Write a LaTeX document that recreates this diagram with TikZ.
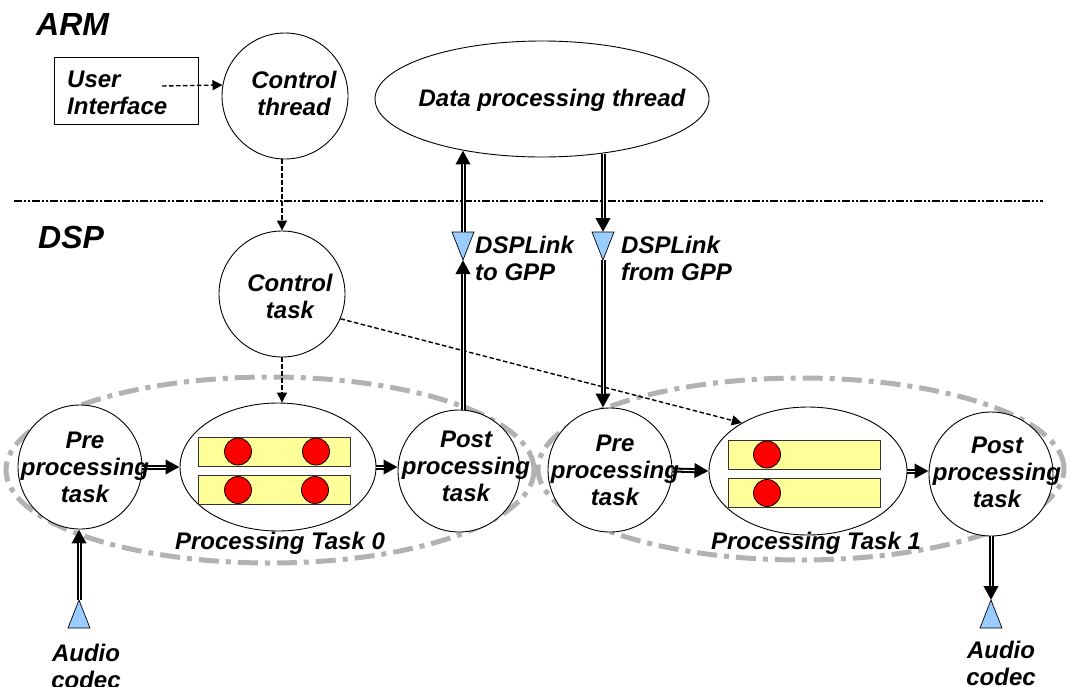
\documentclass[tikz,border=0pt]{standalone}
\usepackage{fontspec}
\setmainfont{Liberation Sans}
\usetikzlibrary{shapes.geometric,arrows.meta}
\definecolor{barY}{RGB}{255,255,153}
\definecolor{triB}{RGB}{153,204,255}
\definecolor{grp}{RGB}{178,178,178}
\newcommand{\dblarr}[2]{%
  \draw[dblout] #1 -- #2;
  \draw[dblin] #1 -- #2;}
\begin{document}
\begin{tikzpicture}[x=1pt,y=-1pt,
  txt/.style={font=\fontsize{24}{27}\selectfont\bfseries\itshape, align=center, inner sep=0pt},
  bigtxt/.style={font=\fontsize{32}{36}\selectfont\bfseries\itshape, inner sep=0pt, anchor=west},
  proc/.style={circle, draw, line width=0.9pt, fill=white, minimum size=#1, inner sep=0pt},
  oval/.style n args={2}{ellipse, draw, line width=0.9pt, fill=white, minimum width=#1, minimum height=#2, inner sep=0pt},
  grpell/.style n args={2}{ellipse, draw=grp, line width=5pt, dash pattern=on 20pt off 7pt on 5pt off 7pt, minimum width=#1, minimum height=#2, inner sep=0pt},
  bar/.style={rectangle, draw=black!80, line width=0.8pt, fill=barY, minimum width=152pt, minimum height=29pt, inner sep=0pt},
  dot/.style={circle, draw, line width=0.8pt, fill=red, minimum size=27pt, inner sep=0pt},
  tri/.style={draw, line width=0.7pt, fill=triB},
  dsh/.style={line width=1.4pt, dash pattern=on 4.5pt off 2.5pt, -{Triangle[length=10pt,width=10pt]}},
  dblout/.style={line width=5pt, -{Triangle[length=14pt,width=14pt]}},
  dblin/.style={white, line width=0.9pt, shorten >=14pt},
  sep/.style={line width=1.4pt, dash pattern=on 8pt off 2pt on 2pt off 2pt on 2pt off 2pt}
]
\useasboundingbox (0,0) rectangle (1071,686);

% labels
\node[bigtxt] (arm) at (36,24) {ARM};
\node[bigtxt] (dsp) at (38,237) {DSP};

% separator
\coordinate (sepL) at (14,201);
\coordinate (sepR) at (1043,201);
\draw[sep] (sepL) -- (sepR);

% grey groups
\node[grpell={528pt}{186pt}] (g0) at (270,470) {};
\node[grpell={526pt}{182pt}] (g1) at (801,469) {};

% ARM side
\node[rectangle, draw, line width=0.9pt, minimum width=144pt, minimum height=67pt, inner sep=0pt] (ui) at (126,90.5) {};
\node[txt, align=left, anchor=west] (uit) at (67,93) {User\\Interface};
\node[proc=126pt] (ct) at (285,96) {};
\node[txt] (ctt) at (294,93) {Control\\thread};
\node[oval={334pt}{116pt}] (dpt) at (542,99) {};
\node[txt] (dptt) at (552,100) {Data processing thread};

% DSP side
\node[proc=126pt] (ctask) at (282,294) {};
\node[txt] (ctaskt) at (290,296) {Control\\task};

\node[proc=124pt] (pre0) at (80,467) {};
\node[oval={196pt}{128pt}] (pt0) at (278,467) {};
\node[proc=122pt] (post0) at (459,471) {};
\node[proc=124pt] (pre1) at (610,470) {};
\node[oval={198pt}{128pt}] (pt1) at (808,471) {};
\node[proc=124pt] (post1) at (991,474) {};

\node[bar] (b00) at (274,451.5) {};
\node[bar] (b01) at (274,490) {};
\node[dot] (d000) at (238,451.5) {};
\node[dot] (d001) at (316,451.5) {};
\node[dot] (d010) at (238,490) {};
\node[dot] (d011) at (315,490) {};
\node[bar] (b10) at (804,454.5) {};
\node[bar] (b11) at (804,493) {};
\node[dot] (d100) at (767,454.5) {};
\node[dot] (d110) at (767,493) {};

% triangles
\coordinate (t0a) at (79,600);
\draw[tri] (t0a) -- (90,628) -- (68,628) -- cycle;
\coordinate (t1a) at (463,260);
\coordinate (t1t) at (463,232);
\draw[tri] (t1a) -- (474,232) -- (452,232) -- cycle;
\coordinate (t2a) at (603,260);
\coordinate (t2t) at (603,232);
\draw[tri] (t2a) -- (614,232) -- (592,232) -- cycle;
\coordinate (t3a) at (991,600);
\draw[tri] (t3a) -- (1002,628) -- (980,628) -- cycle;

% dashed control connectors
\coordinate (uis) at (162,86);
\draw[dsh] (uis) -- (ct.170);
\draw[dsh] (ctask.north |- ct.south) -- (ctask.north);
\draw[dsh] (ctask.south) -- (ctask.south |- pt0.north);
\draw[dsh] (ctask.-23) -- (pt1.144);

% data connectors
\dblarr{(t0a)}{(t0a |- pre0.south)}
\dblarr{(pre0.east)}{(pt0.west)}
\dblarr{(pt0.east)}{(pt0.east -| post0.west)}
\dblarr{(post0.north -| t1a)}{(t1a)}
\dblarr{(t1t)}{(t1t |- dpt.213)}
\dblarr{(t2t |- dpt.318)}{(t2t)}
\dblarr{(t2a)}{(t2a |- pre1.north)}
\dblarr{(pre1.east)}{(pt1.west)}
\dblarr{(pt1.east)}{(pt1.east -| post1.west)}
\dblarr{(post1.south)}{(t3a)}

% texts on top
\node[txt] (pre0t) at (85,467) {Pre\\processing\\task};
\node[txt] (post0t) at (466,466) {Post\\processing\\task};
\node[txt] (pre1t) at (615,470) {Pre\\processing\\task};
\node[txt] (post1t) at (997,472) {Post\\processing\\task};
\node[txt] (pt0l) at (280,543) {Processing Task 0};
\node[txt] (pt1l) at (816,543) {Processing Task 1};
\node[txt, align=left, anchor=west] (l1) at (475,258) {DSPLink\\to GPP};
\node[txt, align=left, anchor=west] (l2) at (621,258) {DSPLink\\from GPP};
\node[txt] (ac0) at (86,666) {Audio\\codec};
\node[txt] (ac1) at (1001,663) {Audio\\codec};
\end{tikzpicture}
\end{document}
